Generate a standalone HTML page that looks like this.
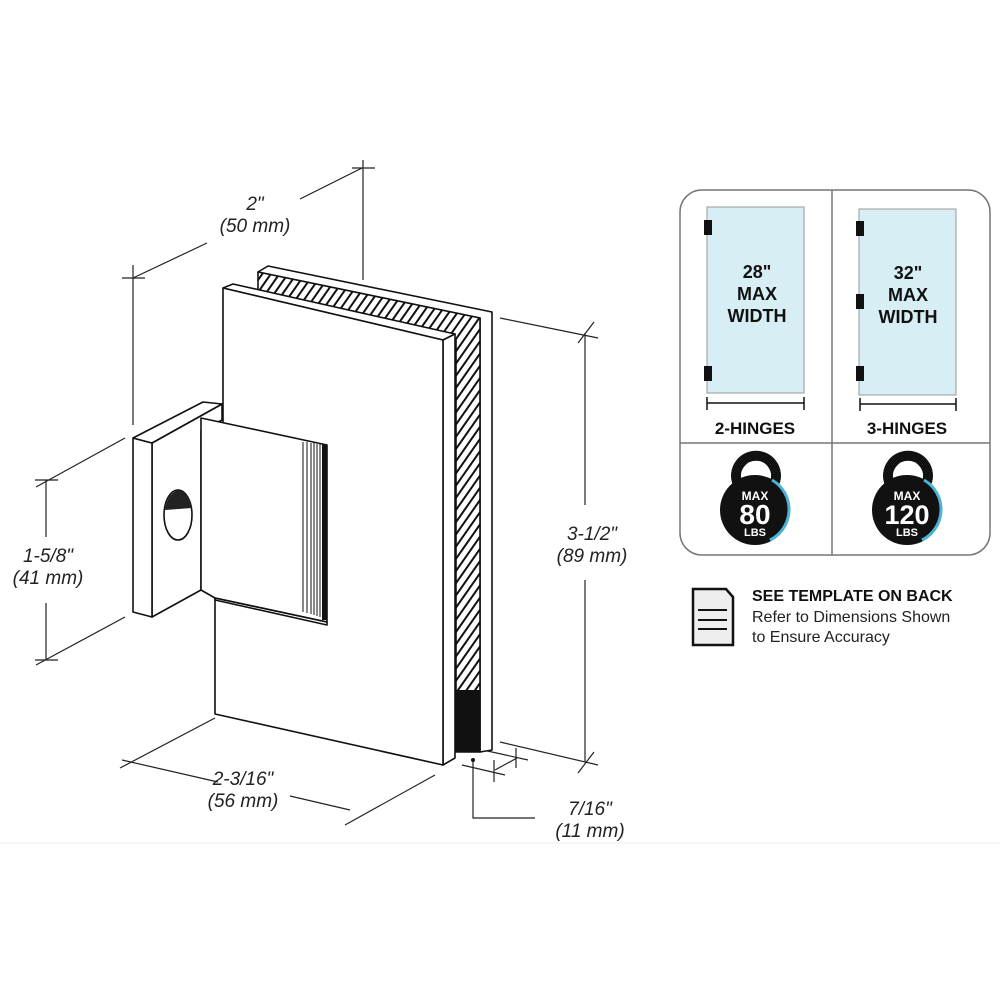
<!DOCTYPE html>
<html><head><meta charset="utf-8"><style>
html,body{margin:0;padding:0;background:#fff;}
svg{display:block;}
.dim{font-family:"Liberation Sans",sans-serif;font-style:italic;font-size:19px;fill:#222;}
.b{font-family:"Liberation Sans",sans-serif;font-weight:bold;fill:#111;}
</style></head><body>
<svg width="1000" height="1000" viewBox="0 0 1000 1000" xmlns="http://www.w3.org/2000/svg">
<defs>
<pattern id="h" patternUnits="userSpaceOnUse" width="7" height="7" patternTransform="rotate(35)">
<rect width="7" height="7" fill="#fff"/><rect width="2" height="7" fill="#111"/></pattern>
</defs>
<g stroke="#222" stroke-width="1.2" fill="none">
<line x1="133" y1="265" x2="133" y2="425"/>
<line x1="363" y1="160" x2="363" y2="280"/>
<line x1="133" y1="278" x2="207" y2="243"/>
<line x1="300" y1="199" x2="362" y2="168"/>
<line x1="122" y1="278" x2="145" y2="278"/>
<line x1="352" y1="168" x2="375" y2="168"/>
<line x1="36" y1="487" x2="125" y2="438"/>
<line x1="36" y1="665" x2="125" y2="617"/>
<line x1="46" y1="480" x2="46" y2="537"/>
<line x1="46" y1="603" x2="46" y2="660"/>
<line x1="35" y1="480" x2="58" y2="480"/>
<line x1="35" y1="660" x2="58" y2="660"/>
<line x1="500" y1="318" x2="598" y2="338"/>
<line x1="500" y1="742" x2="598" y2="765"/>
<line x1="585" y1="333" x2="585" y2="505"/>
<line x1="585" y1="580" x2="585" y2="762"/>
<line x1="578" y1="773" x2="594" y2="752"/>
<line x1="578" y1="343" x2="594" y2="322"/>
<line x1="120" y1="768" x2="215" y2="718"/>
<line x1="345" y1="825" x2="435" y2="775"/>
<line x1="122" y1="760" x2="218" y2="782"/>
<line x1="290" y1="796" x2="350" y2="810"/>
<line x1="462" y1="765" x2="505" y2="775"/>
<line x1="483" y1="750" x2="528" y2="760"/>
<line x1="495" y1="770" x2="517" y2="758"/>
<line x1="494" y1="760" x2="494" y2="782"/>
<line x1="516" y1="748" x2="516" y2="768"/>
<polyline points="473,762 473,818 535,818"/>
</g>
<circle cx="473" cy="760" r="2" fill="#111"/>
<line x1="0" y1="843" x2="1000" y2="843" stroke="#eee" stroke-width="1"/>
<text class="dim" x="255" y="210" text-anchor="middle">2"</text>
<text class="dim" x="255" y="232" text-anchor="middle">(50 mm)</text>
<text class="dim" x="48" y="562" text-anchor="middle">1-5/8"</text>
<text class="dim" x="48" y="584" text-anchor="middle">(41 mm)</text>
<text class="dim" x="592" y="540" text-anchor="middle">3-1/2"</text>
<text class="dim" x="592" y="562" text-anchor="middle">(89 mm)</text>
<text class="dim" x="243" y="785" text-anchor="middle">2-3/16"</text>
<text class="dim" x="243" y="807" text-anchor="middle">(56 mm)</text>
<text class="dim" x="590" y="815" text-anchor="middle">7/16"</text>
<text class="dim" x="590" y="837" text-anchor="middle">(11 mm)</text>

<g stroke="#111" stroke-width="1.6" stroke-linejoin="round">
<polygon points="258,272 268,266 492,312 492,750 480,752 480,318" fill="#fff"/>
<polygon points="258,272 480,318 480,752 456,752 456,340 258,290" fill="url(#h)"/>
<rect x="456" y="690" width="24" height="62" fill="#111" stroke="none"/>
<polygon points="223,288 233,284 455,334 443,340" fill="#fff"/>
<polygon points="443,340 455,334 455,758 443,765" fill="#fff"/>
<polygon points="223,288 443,340 443,765 215,714 215,598 223,596" fill="#fff"/>
<polygon points="152,443 222,404 222,420 201,431 201,590 152,617" fill="#fff"/>
<polygon points="133,438 152,443 152,617 133,612" fill="#fff"/>
<polygon points="133,438 203,402 222,404 152,443" fill="#fff"/>
<polygon points="201,418 327,445 327,622 215,598 201,590" fill="#fff"/>
<polygon points="215,598 327,622 327,625 215,600" fill="none"/>
</g>
<g stroke="#111" stroke-width="1">
<line x1="303" y1="442" x2="303" y2="612"/><line x1="307" y1="442" x2="307" y2="613"/>
<line x1="311" y1="443" x2="311" y2="614"/><line x1="314" y1="443" x2="314" y2="615"/>
<line x1="317" y1="444" x2="317" y2="616"/><line x1="320" y1="444" x2="320" y2="617"/>
</g>
<rect x="322" y="444" width="5" height="176" fill="#111"/>
<ellipse cx="178" cy="515" rx="14" ry="25" fill="#fff" stroke="#111" stroke-width="1.6"/>
<path d="M165,510 A14,25 0 0 1 192,508 Z" fill="#222"/>

<rect x="680" y="190" width="310" height="365" rx="22" fill="#fff" stroke="#777" stroke-width="1.5"/>
<line x1="832" y1="190" x2="832" y2="555" stroke="#777" stroke-width="1.5"/>
<line x1="680" y1="443" x2="990" y2="443" stroke="#777" stroke-width="1.5"/>
<rect x="707" y="207" width="97" height="186" fill="#d7eef4" stroke="#999"/>
<rect x="859" y="209" width="97" height="186" fill="#d7eef4" stroke="#999"/>
<g fill="#111">
<rect x="704" y="220" width="8" height="15"/><rect x="704" y="366" width="8" height="15"/>
<rect x="856" y="221" width="8" height="15"/><rect x="856" y="294" width="8" height="15"/>
<rect x="856" y="366" width="8" height="15"/>
</g>
<g stroke="#111" stroke-width="1.5">
<line x1="707" y1="403" x2="804" y2="403"/><line x1="707" y1="397" x2="707" y2="410"/><line x1="804" y1="397" x2="804" y2="410"/>
<line x1="860" y1="404" x2="956" y2="404"/><line x1="860" y1="398" x2="860" y2="411"/><line x1="956" y1="398" x2="956" y2="411"/>
</g>
<g class="b" font-size="18" text-anchor="middle">
<text x="757" y="278">28"</text><text x="757" y="300">MAX</text><text x="757" y="322">WIDTH</text>
<text x="908" y="279">32"</text><text x="908" y="301">MAX</text><text x="908" y="323">WIDTH</text>
<text x="755" y="434" font-size="17">2-HINGES</text><text x="907" y="434" font-size="17">3-HINGES</text>
</g>
<g>
<path d="M737,482 A20,20 0 1 1 775,482" fill="none" stroke="#111" stroke-width="10"/>
<circle cx="755" cy="510" r="35" fill="#111"/>
<path d="M772,480 A34,34 0 0 1 770,540" fill="none" stroke="#4ab3d6" stroke-width="3"/>
<path d="M889,482 A20,20 0 1 1 927,482" fill="none" stroke="#111" stroke-width="10"/>
<circle cx="907" cy="510" r="35" fill="#111"/>
<path d="M924,480 A34,34 0 0 1 922,540" fill="none" stroke="#4ab3d6" stroke-width="3"/>
</g>
<g font-family="Liberation Sans,sans-serif" font-weight="bold" fill="#fff" text-anchor="middle">
<text x="755" y="500" font-size="12">MAX</text><text x="755" y="524" font-size="28">80</text><text x="755" y="536" font-size="11">LBS</text>
<text x="907" y="500" font-size="12">MAX</text><text x="907" y="524" font-size="27">120</text><text x="907" y="536" font-size="11">LBS</text>
</g>
<path d="M693,589 L726,589 L733,597 L733,645 L693,645 Z" fill="#eee" stroke="#111" stroke-width="2.5"/>
<g stroke="#111" stroke-width="2"><line x1="698" y1="610" x2="727" y2="610"/><line x1="698" y1="620" x2="727" y2="620"/><line x1="698" y1="629" x2="727" y2="629"/></g>
<text class="b" x="752" y="601" font-size="16">SEE TEMPLATE ON BACK</text>
<text x="752" y="622" font-family="Liberation Sans,sans-serif" font-size="16" fill="#222">Refer to Dimensions Shown</text>
<text x="752" y="642" font-family="Liberation Sans,sans-serif" font-size="16" fill="#222">to Ensure Accuracy</text>
</svg>
</body></html>
